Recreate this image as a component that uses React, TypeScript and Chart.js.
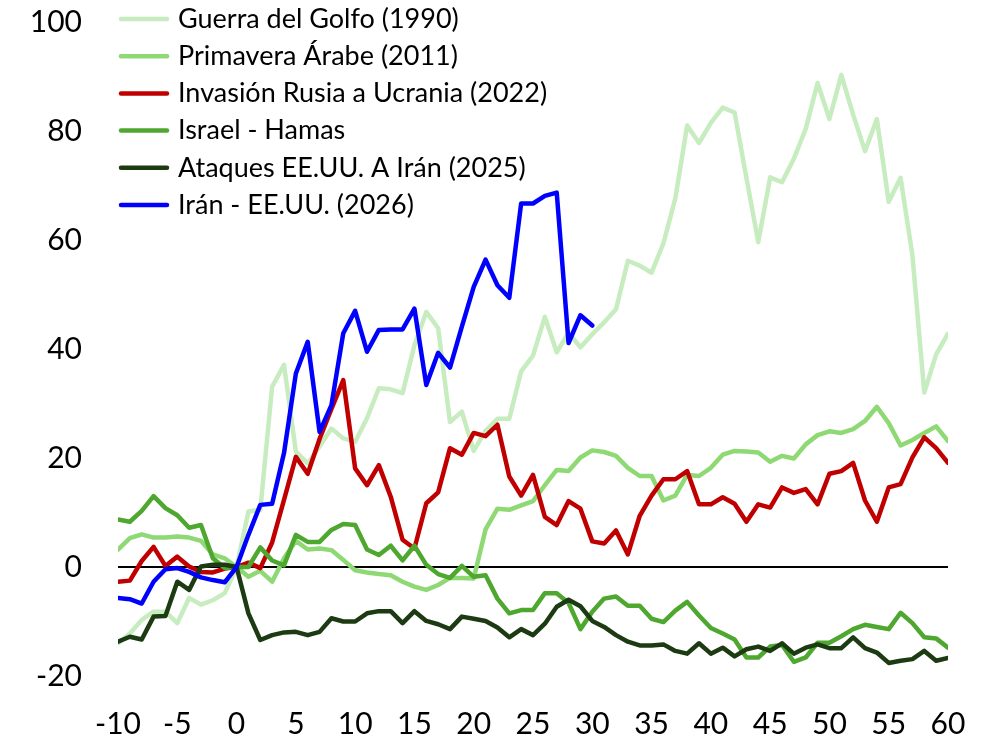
import React, { useEffect, useRef } from "react";
import { Chart, registerables } from "chart.js";

Chart.register(...registerables);

const days = [
  -10, -9, -8, -7, -6, -5, -4, -3, -2, -1, 0, 1, 2, 3, 4, 5, 6, 7, 8, 9, 10,
  11, 12, 13, 14, 15, 16, 17, 18, 19, 20, 21, 22, 23, 24, 25, 26, 27, 28, 29, 30,
  31, 32, 33, 34, 35, 36, 37, 38, 39, 40, 41, 42, 43, 44, 45, 46, 47, 48, 49, 50,
  51, 52, 53, 54, 55, 56, 57, 58, 59, 60,
];

const golfo1990 = [
  -14.0, -12.2, -9.7, -8.2, -8.2, -10.3, -5.7, -6.9, -6.1, -4.8, 0, 10.2, 10.5, 33.1, 37.1, 21.2, 19.0, 22.1, 25.4, 23.6, 23.0,
  27.3, 32.8, 32.6, 31.9, 40.7, 46.8, 43.8, 26.6, 28.5, 21.3, 25.0, 27.2, 27.2, 35.9, 38.8, 45.9, 39.4, 43.0, 40.3, 42.7,
  44.9, 47.3, 56.2, 55.3, 54.0, 59.4, 67.6, 81.0, 77.8, 81.5, 84.3, 83.4, 71.4, 59.6, 71.5, 70.6, 74.9, 80.4, 88.8, 82.2,
  90.3, 83.0, 76.3, 82.2, 67.0, 71.4, 57.2, 32.0, 39.0, 42.8,
];

const primavera2011 = [
  3.2, 5.3, 6.0, 5.4, 5.4, 5.6, 5.4, 4.8, 2.3, 1.6, 0, -1.8, -0.7, -2.7, 1.6, 4.8, 3.2, 3.4, 3.1, 1.3, -0.6,
  -1.0, -1.3, -1.5, -2.7, -3.6, -4.2, -3.3, -2.0, -2.0, -2.1, 6.9, 10.7, 10.5, 11.3, 12.1, 15.0, 17.8, 17.6, 20.1, 21.4,
  21.1, 20.4, 18.2, 16.7, 16.7, 12.2, 13.1, 16.9, 16.7, 18.2, 20.6, 21.3, 21.2, 21.0, 19.3, 20.4, 19.9, 22.5, 24.2, 24.9,
  24.6, 25.3, 26.8, 29.4, 26.4, 22.3, 23.3, 24.6, 25.8, 23.1,
];

const rusia2022 = [
  -2.7, -2.5, 1.1, 3.7, 0.2, 1.9, 0.1, -0.9, -1.0, -0.3, 0, 0.8, -0.2, 4.5, 12.3, 20.2, 17.1, 23.5, 29.0, 34.3, 18.1,
  15.0, 18.7, 12.9, 5.0, 3.4, 11.7, 13.7, 21.8, 20.6, 24.6, 24.0, 26.1, 16.6, 13.1, 16.9, 9.2, 7.7, 12.1, 10.7, 4.7,
  4.3, 6.7, 2.3, 9.4, 13.1, 16.1, 16.1, 17.6, 11.5, 11.5, 12.8, 11.6, 8.3, 11.5, 10.9, 14.6, 13.6, 14.3, 11.5, 17.1,
  17.6, 19.1, 12.2, 8.3, 14.6, 15.2, 20.1, 23.8, 21.8, 19.1,
];

const israelHamas = [
  8.7, 8.3, 10.3, 13.0, 10.8, 9.5, 7.2, 7.7, 1.6, -0.2, 0, 0.0, 3.6, 1.2, 0.3, 5.9, 4.6, 4.6, 6.8, 7.9, 7.7,
  3.2, 2.2, 3.9, 1.2, 3.9, 0.4, -1.3, -2.0, 0.2, -1.8, -1.5, -5.8, -8.5, -7.9, -7.9, -4.8, -4.8, -6.6, -11.4, -8.2,
  -5.8, -5.4, -7.1, -7.1, -9.5, -10.1, -8.0, -6.4, -8.9, -11.2, -12.2, -13.3, -16.6, -16.6, -14.6, -14.3, -17.4, -16.6, -13.9, -13.9,
  -12.7, -11.4, -10.6, -11.0, -11.4, -8.4, -10.3, -12.9, -13.1, -14.8,
];

const ataques2025 = [
  -13.7, -12.8, -13.3, -9.1, -9.0, -2.7, -4.2, 0.1, 0.4, 0.4, 0, -8.5, -13.4, -12.5, -12.0, -11.9, -12.5, -11.9, -9.4, -10.0, -10.0,
  -8.5, -8.1, -8.1, -10.3, -8.1, -9.9, -10.5, -11.4, -9.1, -9.5, -9.9, -11.1, -12.9, -11.4, -12.5, -10.4, -7.3, -6.0, -7.2, -9.9,
  -11.0, -12.5, -13.7, -14.4, -14.4, -14.2, -15.4, -15.9, -14.0, -15.9, -14.8, -16.4, -15.1, -14.6, -15.4, -14.0, -15.9, -14.8, -14.2, -14.9,
  -14.9, -12.9, -14.9, -15.7, -17.6, -17.2, -16.9, -15.4, -17.2, -16.7,
];

const iran2026 = [
  -5.7, -5.9, -6.7, -2.7, -0.4, -0.2, -0.9, -1.9, -2.4, -2.8, 0, 5.9, 11.4, 11.6, 20.9, 35.5, 41.3, 24.8, 29.7, 42.9, 47.0,
  39.5, 43.5, 43.6, 43.6, 47.4, 33.4, 39.3, 36.6, 44.1, 51.4, 56.4, 51.7, 49.4, 66.7, 66.7, 68.1, 68.7, 41.1, 46.2, 44.3,
];

const seriesNames = [
  "Guerra del Golfo (1990)",
  "Primavera Árabe (2011)",
  "Invasión Rusia a Ucrania (2022)",
  "Israel - Hamas",
  "Ataques EE.UU. A Irán (2025)",
  "Irán - EE.UU. (2026)",
];
const seriesValues = [golfo1990, primavera2011, rusia2022, israelHamas, ataques2025, iran2026];
const seriesColors = ["#C6ECBF", "#8ED973", "#C00000", "#4EA72E", "#1D3B12", "#0000FF"];

const FONT = "Lato, 'Open Sans', sans-serif";

const legendPlugin = {
  id: "customLegend",
  afterDraw(chart: any) {
    const ctx = chart.ctx;
    ctx.save();
    ctx.font = `27px ${FONT}`;
    ctx.textBaseline = "middle";
    ctx.textAlign = "left";
    seriesNames.forEach((name, i) => {
      const y = 19 + i * 37.2;
      ctx.strokeStyle = seriesColors[i];
      ctx.lineWidth = 4.5;
      ctx.lineCap = "round";
      ctx.beginPath();
      ctx.moveTo(121, y);
      ctx.lineTo(167, y);
      ctx.stroke();
      ctx.fillStyle = "#000";
      ctx.fillText(name, 178, y);
    });
    ctx.restore();
  },
};

export default function App() {
  const ref = useRef<HTMLCanvasElement>(null);
  useEffect(() => {
    document.body.style.margin = "0";
    const datasets = seriesNames.map((name, i) => ({
      label: name,
      data: seriesValues[i].map((v, j) => ({ x: days[j], y: v })),
      borderColor: seriesColors[i],
      backgroundColor: seriesColors[i],
      borderWidth: 4.5,
      pointRadius: 0,
      tension: 0,
      fill: false,
      borderJoinStyle: "round" as const,
      borderCapStyle: "round" as const,
      order: seriesNames.length - i,
    }));
    const chart = new Chart(ref.current!, {
      type: "line",
      data: { datasets },
      options: {
        animation: false,
        responsive: false,
        maintainAspectRatio: false,
        layout: { autoPadding: false, padding: { top: 22, right: 49, left: 0, bottom: 0 } },
        plugins: { legend: { display: false }, tooltip: { enabled: false } },
        scales: {
          x: {
            type: "linear",
            min: -10,
            max: 60,
            afterFit: (s: any) => {
              s.height = 65;
              s.paddingLeft = 0;
              s.paddingRight = 0;
            },
            grid: { display: false, drawTicks: false },
            border: { display: false },
            ticks: {
              stepSize: 5,
              padding: 30,
              color: "#000",
              font: { family: FONT, size: 30 },
              maxRotation: 0,
            },
          },
          y: {
            min: -20,
            max: 100,
            afterFit: (s: any) => {
              s.width = 118;
              s.paddingTop = 0;
              s.paddingBottom = 0;
            },
            grid: {
              drawTicks: false,
              color: (c: any) => (c.tick && c.tick.value === 0 ? "#000" : "rgba(0,0,0,0)"),
              lineWidth: (c: any) => (c.tick && c.tick.value === 0 ? 2 : 0),
            },
            border: { display: false },
            ticks: {
              stepSize: 20,
              padding: 36,
              color: "#000",
              font: { family: FONT, size: 30 },
            },
          },
        },
      },
      plugins: [legendPlugin],
    });
    return () => chart.destroy();
  }, []);
  return (
    <div style={{ width: 997, height: 741 }}>
      <canvas ref={ref} width={997} height={741} style={{ display: "block" }} />
    </div>
  );
}
